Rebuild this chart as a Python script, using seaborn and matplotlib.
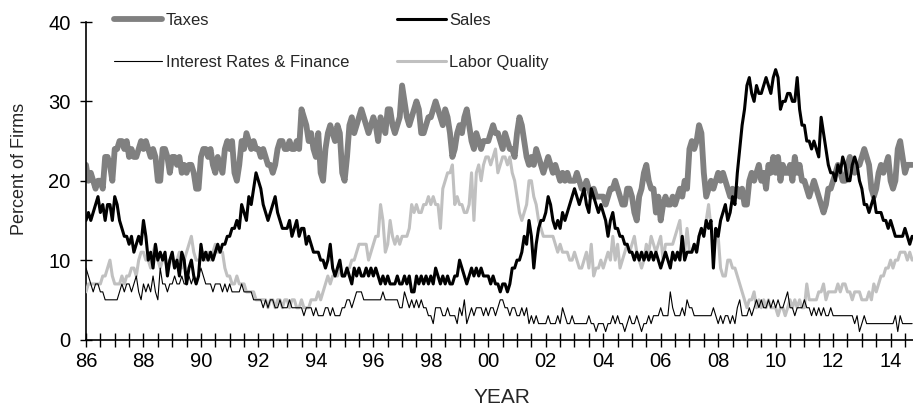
import numpy as np
import pandas as pd
import seaborn as sns
import matplotlib.pyplot as plt
from matplotlib.ticker import MultipleLocator, FuncFormatter

# monthly survey values, Jan 1986 - Oct 2014 (one row per year)
taxes = [
    22,20,21,20,19,20,20,19,23,23,22,20,  24,24,25,25,24,25,23,24,23,23,24,25,
    24,25,24,23,24,23,20,20,24,24,23,21,  23,23,22,23,21,22,21,22,22,21,19,19,
    23,24,24,23,24,22,21,23,22,21,24,25,  24,25,21,20,22,25,24,26,25,24,25,24,
    24,23,24,23,22,22,21,22,24,25,25,24,  24,25,24,24,25,24,29,28,27,25,26,24,
    23,26,21,20,24,26,27,26,25,27,26,21,  20,23,27,28,26,27,28,29,28,27,26,27,
    28,27,25,28,27,26,29,29,27,26,27,28,  32,30,28,27,28,29,30,29,26,26,27,28,
    28,29,30,29,28,27,29,28,26,23,24,26,  27,26,28,29,27,25,24,26,25,24,25,25,
    25,26,27,26,26,25,24,26,25,24,24,23,  26,28,27,25,23,22,23,22,24,23,22,21,
    22,23,22,21,22,21,20,21,20,21,20,20,  20,21,20,19,19,20,19,18,19,18,18,18,
    18,17,18,19,19,20,19,18,17,17,19,19,  18,16,15,18,19,21,22,20,19,19,16,18,
    15,17,18,17,17,18,17,18,19,18,20,19,  24,25,24,25,27,26,21,18,19,20,19,20,
    21,20,21,20,19,18,19,18,19,18,19,17,  17,20,21,20,21,22,20,21,19,22,21,23,
    21,23,20,22,21,21,22,20,23,21,22,20,  20,19,18,19,20,19,18,17,16,17,19,19,
    20,21,22,21,20,20,22,23,22,21,22,22,  23,24,23,22,19,18,19,21,22,21,22,23,
    20,19,20,24,25,23,21,22,22,22,
]
sales = [
    15,16,15,16,17,18,16,17,15,17,17,15,  18,17,15,14,13,13,12,13,11,12,13,12,
    15,13,10,11,9,12,10,11,10,11,8,10,    11,9,10,8,11,10,7,9,10,8,7,8,
    12,10,11,10,11,10,11,12,11,12,12,13,  13,14,14,15,14,17,16,15,18,17,19,21,
    20,19,17,16,15,16,17,18,16,15,14,14,  14,15,13,14,15,13,14,14,12,13,12,11,
    11,11,10,10,9,10,12,9,8,9,10,8,       8,9,8,7,9,8,9,8,8,9,8,9,
    8,9,8,7,8,7,8,7,7,7,8,7,              7,8,7,8,6,6,8,7,8,7,8,7,
    8,7,9,8,7,8,7,8,7,7,8,8,              10,9,8,7,8,9,8,9,8,9,8,8,
    8,7,8,7,7,6,7,7,6,7,9,9,              10,10,11,13,12,15,13,9,12,14,15,15,
    16,18,17,15,14,15,14,16,15,16,17,18,  19,18,17,18,19,17,16,19,18,17,16,17,
    16,15,13,15,16,14,14,13,13,12,12,11,  11,10,11,10,11,10,11,10,11,10,11,10,
    9,10,11,10,9,11,10,11,10,13,10,11,    11,11,12,11,13,14,13,15,14,15,9,14,
    13,15,16,17,15,16,18,17,21,24,27,29,  32,33,31,30,32,31,31,32,33,32,31,33,
    34,33,29,30,30,31,31,30,30,33,29,27,  27,25,25,24,25,24,23,28,26,24,22,21,
    21,20,22,21,23,22,20,20,22,23,22,20,  19,17,17,16,17,18,16,16,16,15,15,14,
    15,14,13,13,13,13,14,13,12,13,
]
interest = [
    9,8,7,6,7,7,6,6,5,5,5,5,  5,5,6,7,6,7,7,6,7,8,6,5,
    7,6,7,6,8,6,5,9,7,7,6,7,  7,8,7,7,8,7,7,8,7,8,7,8,
    9,8,7,7,7,6,7,7,7,6,7,6,  7,6,6,6,6,7,6,6,6,6,5,5,
    5,5,4,5,4,5,5,4,4,5,4,4,  4,5,4,4,4,4,4,3,4,4,4,3,
    4,3,3,3,4,4,3,4,3,3,3,4,  4,5,5,4,5,6,6,6,5,5,5,5,
    5,5,5,5,6,5,5,5,5,5,5,4,  4,6,5,4,5,4,5,4,5,4,4,3,
    3,2,4,4,4,3,3,4,3,3,3,2,  4,3,5,2,3,4,3,4,4,4,3,4,
    3,4,4,3,4,5,5,4,4,3,4,4,  3,3,4,3,4,2,3,2,3,2,2,2,
    2,3,2,2,2,3,2,4,3,2,2,3,  2,2,2,2,2,2,3,2,2,1,2,2,
    2,1,2,2,3,2,3,2,2,1,2,3,  2,2,3,2,1,2,2,3,2,3,3,3,
    4,3,3,3,6,4,3,3,3,4,3,5,  4,4,3,3,3,3,3,3,3,3,4,3,
    2,3,2,3,3,2,3,2,4,5,3,3,  3,4,3,4,5,4,5,4,4,5,4,5,
    4,5,4,4,5,6,4,4,3,4,4,4,  5,4,4,3,4,3,4,3,4,3,3,4,
    3,3,3,3,3,3,3,3,3,2,3,1,  2,3,2,2,2,2,2,2,2,2,2,2,
    2,2,3,1,3,2,2,2,2,2,
]
labor = [
    6,7,7,7,7,7,7,8,8,9,10,8,         7,7,7,8,7,8,8,9,9,8,10,11,
    11,10,10,9,11,12,10,9,10,10,9,10, 10,9,10,11,9,10,11,12,13,11,10,10,
    10,11,10,11,10,11,12,11,11,11,9,8, 8,7,7,8,7,7,7,6,6,6,6,5,
    5,5,5,5,4,5,5,4,5,5,4,5,          5,4,5,5,4,4,5,4,4,4,5,5,
    5,6,5,6,7,8,7,8,8,8,9,8,          8,9,9,10,10,11,12,12,12,12,10,11,
    12,13,13,17,15,11,12,15,13,12,13,12, 13,13,13,14,17,16,17,16,16,17,17,18,
    17,18,17,17,14,19,20,21,21,22,17,18, 17,17,16,16,17,21,15,21,22,20,22,23,
    23,22,23,24,21,22,23,23,22,23,21,20, 18,16,15,16,17,20,20,18,17,15,14,13,
    13,13,13,13,12,11,12,11,11,11,10,10, 11,10,9,9,10,11,9,12,8,9,9,10,
    9,10,11,10,13,10,12,9,10,11,12,11,   12,13,11,10,9,10,12,11,13,12,11,12,
    13,10,12,12,12,12,13,14,15,11,11,14, 11,11,12,11,13,14,13,15,17,14,13,14,
    13,9,8,8,10,10,9,9,8,7,6,5,          4,5,5,6,4,5,4,5,4,5,4,4,
    4,3,4,4,3,4,5,4,5,4,5,4,             4,7,5,5,5,5,6,6,7,5,6,6,
    6,6,7,6,7,7,6,6,5,6,6,6,             5,5,5,6,5,7,6,7,8,8,9,9,
    10,9,10,10,11,11,11,10,11,10,
]

df = pd.DataFrame({"Taxes": taxes, "Sales": sales,
                   "Interest Rates & Finance": interest, "Labor Quality": labor})
df["t"] = 1986 + np.arange(len(df)) / 12

sns.set_style("ticks")
plt.rcParams["font.family"] = ["Liberation Sans", "DejaVu Sans"]

W, H = 913, 408
fig = plt.figure(figsize=(W / 100, H / 100), dpi=100)
ax = fig.add_axes([86 / W, (H - 339.5) / H, 827 / W, 317.5 / H])

styles = {
    "Taxes": dict(color="#808080", linewidth=4.2, zorder=2),
    "Labor Quality": dict(color="#c0c0c0", linewidth=2.2, zorder=3),
    "Sales": dict(color="black", linewidth=2.2, zorder=4),
    "Interest Rates & Finance": dict(color="black", linewidth=0.8, zorder=5),
}
for name, st in styles.items():
    sns.lineplot(data=df, x="t", y=name, ax=ax, label=name, **st)

ax.set_xlim(1986, 2014.78)
ax.set_ylim(0, 40)
ax.yaxis.set_major_locator(MultipleLocator(10))
ax.xaxis.set_major_locator(MultipleLocator(2))
ax.xaxis.set_minor_locator(MultipleLocator(0.5))
ax.xaxis.set_major_formatter(FuncFormatter(lambda v, p: f"{int(round(v)) % 100:02d}"))
ax.tick_params(axis="x", which="both", direction="inout", length=9.5, width=1, colors="black", pad=4)
ax.tick_params(axis="y", direction="inout", length=9, width=1, colors="black", pad=6.5)
ax.tick_params(labelsize=14.5)
for s in ["top", "right"]:
    ax.spines[s].set_visible(False)
for s in ["left", "bottom"]:
    ax.spines[s].set_color("black")
    ax.spines[s].set_linewidth(1.2)
ax.set_xlabel("")
ax.set_ylabel("")

fig.text(502 / W, 5 / H, "YEAR", fontsize=15, ha="center", va="baseline")
fig.text(24.3 / W, 1 - 169 / H, "Percent of Firms", fontsize=13, rotation=90,
         rotation_mode="anchor", ha="center", va="baseline")

handles, labels = ax.get_legend_handles_labels()
order = [labels.index(n) for n in ["Taxes", "Interest Rates & Finance", "Sales", "Labor Quality"]]
ax.get_legend().remove()
fig.legend([handles[i] for i in order], [labels[i] for i in order], ncol=2,
           loc="upper left", bbox_to_anchor=(114 / W, 1 - 13 / H), frameon=False,
           handlelength=2.9, handletextpad=0.2, columnspacing=2.9, labelspacing=1.6,
           borderpad=0, borderaxespad=0, fontsize=12)

fig.savefig("out.png", dpi=100)
